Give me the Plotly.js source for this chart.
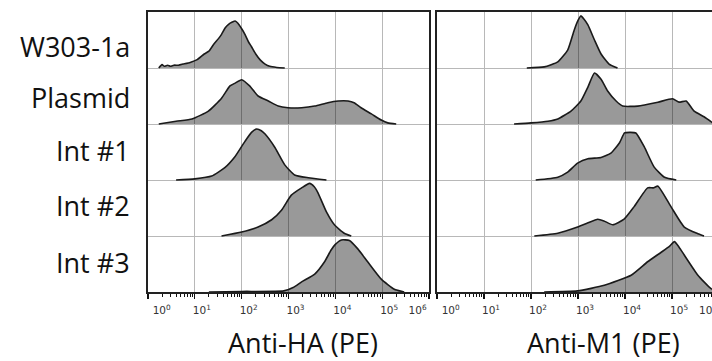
<!DOCTYPE html>
<html><head><meta charset="utf-8">
<script src="https://cdn.plot.ly/plotly-3.0.1.min.js"></script>
<style>html,body{margin:0;padding:0;background:#fff}#chart{width:712px;height:361px}</style>
</head><body><div id="chart"></div>
<script>
// Sample names (top to bottom)
const categories = ['W303-1a', 'Plasmid', 'Int #1', 'Int #2', 'Int #3'];
const panelTitles = ['Anti-HA (PE)', 'Anti-M1 (PE)'];
const tickValues = [1, 10, 100, 1000, 10000, 100000, 1000000];
const tickLabels = ['&nbsp;&nbsp;&nbsp;&nbsp;10<sup>0</sup>', '10<sup>1</sup>', '10<sup>2</sup>', '10<sup>3</sup>',
                    '10<sup>4</sup>', '10<sup>5</sup>',
                    '10<sup>6</sup>&nbsp;&nbsp;&nbsp;&nbsp;&nbsp;&nbsp;&nbsp;&nbsp;&nbsp;&nbsp;&nbsp;'];

// Anti-HA histograms: log10(intensity) and normalised height (fraction of row)
const haW303Log = [0.23, 0.3, 0.35, 0.42, 0.48, 0.55, 0.65, 0.75, 0.9, 1.05, 1.2, 1.3, 1.4, 1.5, 1.57, 1.65, 1.72, 1.8, 1.86, 1.92, 2.0, 2.07, 2.15, 2.21, 2.3, 2.4, 2.5, 2.6, 2.75, 2.92];
const haW303H   = [0.0, 0.06, 0.03, 0.05, 0.03, 0.05, 0.05, 0.07, 0.1, 0.15, 0.25, 0.3, 0.42, 0.52, 0.6, 0.72, 0.78, 0.82, 0.84, 0.8, 0.7, 0.6, 0.46, 0.38, 0.25, 0.14, 0.07, 0.03, 0.01, 0.0];
const haPlasLog = [0.23, 0.6, 0.94, 1.29, 1.57, 1.75, 1.86, 2.0, 2.17, 2.35, 2.57, 2.78, 2.99, 3.28, 3.56, 3.84, 4.06, 4.27, 4.4, 4.55, 4.77, 4.98, 5.12, 5.3];
const haPlasH   = [0.0, 0.05, 0.09, 0.23, 0.46, 0.68, 0.73, 0.79, 0.68, 0.5, 0.41, 0.32, 0.29, 0.29, 0.32, 0.38, 0.41, 0.41, 0.38, 0.29, 0.18, 0.07, 0.02, 0.0];
const haInt1Log = [0.6, 1.0, 1.36, 1.64, 1.86, 2.07, 2.21, 2.32, 2.42, 2.5, 2.71, 2.92, 3.13, 3.42, 3.81];
const haInt1H   = [0.0, 0.02, 0.07, 0.22, 0.42, 0.69, 0.85, 0.91, 0.88, 0.82, 0.58, 0.27, 0.09, 0.04, 0.0];
const haInt2Log = [1.57, 2.0, 2.35, 2.64, 2.85, 3.06, 3.28, 3.45, 3.55, 3.63, 3.81, 3.98, 4.19, 4.34];
const haInt2H   = [0.0, 0.07, 0.16, 0.29, 0.46, 0.73, 0.86, 0.94, 0.88, 0.77, 0.43, 0.2, 0.05, 0.0];
const haInt3Log = [1.3, 2.0, 2.9, 3.1, 3.28, 3.56, 3.77, 3.91, 4.0, 4.13, 4.3, 4.48, 4.69, 4.98, 5.26, 5.47];
const haInt3H   = [0.0, 0.01, 0.02, 0.08, 0.18, 0.32, 0.54, 0.75, 0.85, 0.93, 0.92, 0.77, 0.54, 0.23, 0.05, 0.0];

// Anti-M1 histograms
const m1W303Log = [1.91, 2.28, 2.57, 2.78, 2.92, 3.0, 3.06, 3.12, 3.21, 3.35, 3.49, 3.66, 3.84];
const m1W303H   = [0.0, 0.02, 0.11, 0.32, 0.68, 0.85, 0.93, 0.88, 0.77, 0.5, 0.25, 0.07, 0.0];
const m1PlasLog = [1.64, 2.0, 2.36, 2.57, 2.85, 3.06, 3.21, 3.35, 3.49, 3.63, 3.81, 3.95, 4.27, 4.7, 5.01, 5.15, 5.3, 5.47, 5.68, 5.87, 6.0];
const m1PlasH   = [0.0, 0.02, 0.05, 0.09, 0.23, 0.41, 0.66, 0.91, 0.8, 0.59, 0.41, 0.32, 0.32, 0.39, 0.45, 0.39, 0.41, 0.23, 0.13, 0.02, 0.0];
const m1Int1Log = [2.1, 2.57, 2.78, 2.99, 3.21, 3.49, 3.7, 3.88, 3.99, 4.1, 4.23, 4.41, 4.62, 4.84, 5.09];
const m1Int1H   = [0.0, 0.05, 0.14, 0.3, 0.38, 0.4, 0.48, 0.66, 0.84, 0.85, 0.84, 0.59, 0.23, 0.05, 0.0];
const m1Int2Log = [2.07, 2.57, 2.99, 3.2, 3.42, 3.55, 3.74, 3.98, 4.19, 4.48, 4.6, 4.7, 4.98, 5.26, 5.55, 5.68];
const m1Int2H   = [0.0, 0.05, 0.16, 0.23, 0.3, 0.27, 0.2, 0.3, 0.52, 0.86, 0.86, 0.89, 0.52, 0.16, 0.04, 0.0];
const m1Int3Log = [2.28, 2.99, 3.56, 4.13, 4.48, 4.77, 4.95, 5.05, 5.15, 5.26, 5.55, 5.83, 6.0];
const m1Int3H   = [0.0, 0.02, 0.12, 0.3, 0.54, 0.71, 0.82, 0.9, 0.8, 0.66, 0.3, 0.06, 0.0];

const haSeries = [[haW303Log, haW303H], [haPlasLog, haPlasH], [haInt1Log, haInt1H], [haInt2Log, haInt2H], [haInt3Log, haInt3H]];
const m1Series = [[m1W303Log, m1W303H], [m1PlasLog, m1PlasH], [m1Int1Log, m1Int1H], [m1Int2Log, m1Int2H], [m1Int3Log, m1Int3H]];

function curve(logs, hs, row, xa, ya) {
  const off = categories.length - 1 - row;
  return {
    type: 'scatter', mode: 'lines', name: categories[row],
    x: logs.map(e => Math.pow(10, e)), y: hs.map(h => h + off),
    xaxis: xa, yaxis: ya, fill: 'toself', fillcolor: 'rgba(0,0,0,0.40)',
    line: { color: '#1a1a1a', width: 1.6, shape: 'spline', smoothing: 0.5 },
    hoverinfo: 'skip', showlegend: false
  };
}
const traces = [];
haSeries.forEach((s, i) => traces.push(curve(s[0], s[1], i, 'x', 'y')));
m1Series.forEach((s, i) => traces.push(curve(s[0], s[1], i, 'x2', 'y2')));

const W = 712, H = 361;
const yDom = [1 - 292 / H, 1 - 12 / H];
function xAxis(dom, rng, anchor) {
  return {
    domain: dom, type: 'log', range: rng, anchor: anchor,
    tickmode: 'array', tickvals: tickValues, ticktext: tickLabels,
    ticks: 'outside', ticklen: 5, tickwidth: 1.2, tickcolor: '#111',
    showline: true, linecolor: '#222', linewidth: 1.8, mirror: true,
    showgrid: true, gridcolor: '#b8b8b8', gridwidth: 1, zeroline: false,
    tickfont: { family: 'DejaVu Sans', size: 10.5, color: '#333' },
    ticklabelshift: 7, ticklabelstandoff: 3,
    minor: { ticks: 'outside', ticklen: 3, tickcolor: '#111', tickwidth: 1, dtick: 'D1', showgrid: false },
    fixedrange: true
  };
}
function yAxis(anchor, mirror) {
  return {
    domain: yDom, range: [0, 5], anchor: anchor,
    tickmode: 'array', tickvals: [1, 2, 3, 4], showticklabels: false, ticks: '',
    showgrid: true, gridcolor: '#b8b8b8', gridwidth: 1, zeroline: false,
    showline: true, linecolor: '#222', linewidth: 1.8, mirror: mirror, fixedrange: true
  };
}

const labelCenters = [47, 97, 150, 205, 262];
const annotations = categories.map((c, i) => ({
  text: c, xref: 'paper', yref: 'paper', x: 132 / W, y: 1 - labelCenters[i] / H,
  xanchor: 'right', yanchor: 'middle', showarrow: false,
  font: { family: 'Open Sans', size: 27, color: '#111' }
}));
annotations.push({ text: panelTitles[0], xref: 'paper', yref: 'paper', x: 303 / W, y: 1 - 342 / H,
  xanchor: 'center', yanchor: 'middle', showarrow: false, font: { family: 'Open Sans', size: 27, color: '#111' } });
annotations.push({ text: panelTitles[1], xref: 'paper', yref: 'paper', x: 603 / W, y: 1 - 342 / H,
  xanchor: 'center', yanchor: 'middle', showarrow: false, font: { family: 'Open Sans', size: 27, color: '#111' } });
annotations.push({ text: '10<sup>6</sup>', xref: 'paper', yref: 'paper', x: 697 / W, y: 1 - 309 / H,
  xanchor: 'left', yanchor: 'middle', showarrow: false, font: { family: 'DejaVu Sans', size: 10.5, color: '#333' } });

const layout = {
  width: W, height: H, margin: { l: 0, r: 0, t: 0, b: 0 },
  paper_bgcolor: '#fff', plot_bgcolor: 'rgba(0,0,0,0)',
  xaxis: xAxis([148 / W, 429 / W], [0, 6], 'y'),
  yaxis: yAxis('x', true),
  xaxis2: xAxis([437 / W, 1], [0, 5.85], 'y2'),
  yaxis2: yAxis('x2', false),
  annotations: annotations, showlegend: false
};
Plotly.newPlot('chart', traces, layout, { displayModeBar: false, staticPlot: true });
</script>
</body></html>
